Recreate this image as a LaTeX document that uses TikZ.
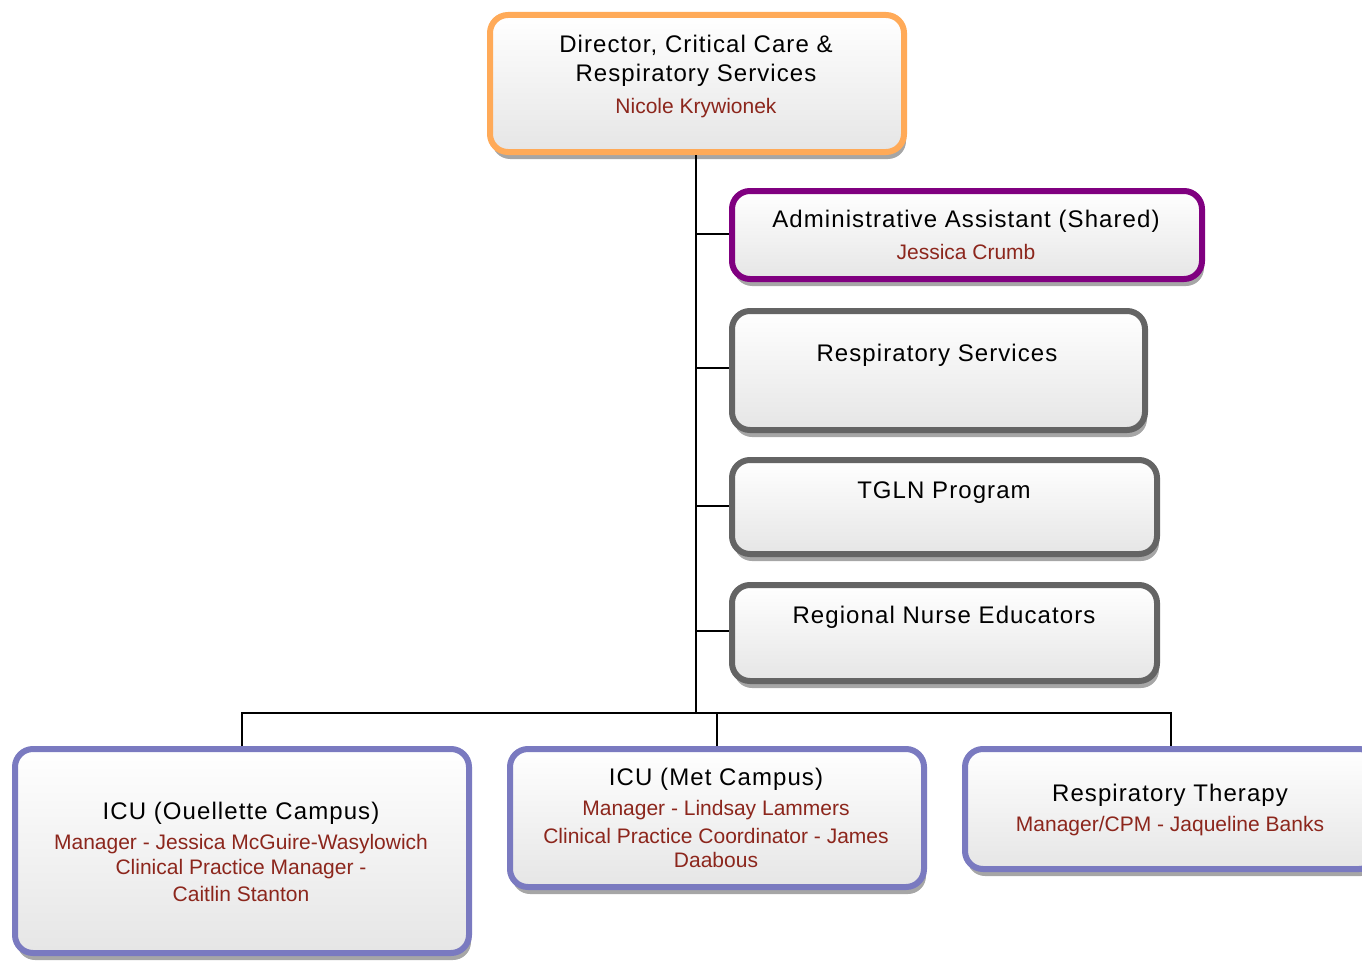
\documentclass[tikz,border=0pt]{standalone}
\usepackage{fontspec}
\setmainfont{Liberation Sans}
\newfontfamily\wideff[LetterSpace=4.5]{Liberation Sans}
\usetikzlibrary{shadows}
\definecolor{redtxt}{RGB}{140,38,28}
\definecolor{borange}{RGB}{255,170,88}
\definecolor{bpurple}{RGB}{128,0,128}
\definecolor{bgray}{RGB}{100,100,100}
\definecolor{bblue}{RGB}{122,122,192}
\tikzset{
  box/.style={draw, rounded corners=18pt, line width=6pt, inner sep=0pt,
    top color=white, bottom color=black!10,
    drop shadow={shadow xshift=2pt, shadow yshift=-7pt, fill=black!35, opacity=1}},
  ttl/.style={font=\wideff\fontsize{24}{28}\selectfont, text=black, inner sep=0pt, align=center},
  sub/.style={font=\fontsize{21}{25}\selectfont, text=redtxt, inner sep=0pt, align=center},
  conn/.style={line width=1.8pt, black}
}
\begin{document}
\begin{tikzpicture}[x=1pt,y=-1pt]
\useasboundingbox (0,0) rectangle (1362,963);
% boxes
\node[box, draw=borange, minimum width=414pt, minimum height=137pt] (dir) at (697,83.5) {};
\node[box, draw=bpurple, minimum width=470pt, minimum height=88pt] (adm) at (967,235) {};
\node[box, draw=bgray, minimum width=413pt, minimum height=119pt] (rs) at (938.5,370.5) {};
\node[box, draw=bgray, minimum width=425pt, minimum height=94pt] (tgln) at (944.5,507) {};
\node[box, draw=bgray, minimum width=425pt, minimum height=96pt] (rne) at (944.5,633) {};
\node[box, draw=bblue, minimum width=454pt, minimum height=204pt] (icuo) at (242,851) {};
\node[box, draw=bblue, minimum width=414pt, minimum height=138pt] (icum) at (717,818) {};
\node[box, draw=bblue, minimum width=412pt, minimum height=120pt] (rt) at (1171,809) {};
% texts
\node[ttl] (dirt1) at (696,45) {Director, Critical Care \&};
\node[ttl] (dirt2) at (696,75) {Respiratory Services};
\node[sub] (dirs) at (696,108) {Nicole Krywionek};
\node[ttl] (admt) at (966,221) {Administrative Assistant (Shared)};
\node[sub] (adms) at (966,252) {Jessica Crumb};
\node[ttl] (rst) at (937,355) {Respiratory Services};
\node[ttl] (tglnt) at (944,493) {TGLN Program};
\node[ttl] (rnet) at (944,617) {Regional Nurse Educators};
\node[ttl] (icuot) at (241,813) {ICU (Ouellette Campus)};
\node[sub] (icuos1) at (241,844) {Manager - Jessica McGuire-Wasylowich};
\node[sub] (icuos2) at (241,869) {Clinical Practice Manager -};
\node[sub] (icuos3) at (241,894) {Caitlin Stanton};
\node[ttl] (icumt) at (716,779) {ICU (Met Campus)};
\node[sub] (icums1) at (716,810) {Manager - Lindsay Lammers};
\node[sub] (icums2) at (716,836) {Clinical Practice Coordinator - James};
\node[sub] (icums3) at (716,860) {Daabous};
\node[ttl] (rtt) at (1170,795) {Respiratory Therapy};
\node[sub] (rts) at (1170,826) {Manager/CPM - Jaqueline Banks};
% connectors
\coordinate (j1) at (696,234);
\coordinate (j2) at (696,368);
\coordinate (j3) at (696,506);
\coordinate (j4) at (696,631);
\coordinate (bus) at (696,713);
\draw[conn] (dir.south -| bus) -- (bus);
\draw[conn] (j1) -- (j1 -| adm.west);
\draw[conn] (j2) -- (j2 -| rs.west);
\draw[conn] (j3) -- (j3 -| tgln.west);
\draw[conn] (j4) -- (j4 -| rne.west);
\draw[conn] (icuo.north) -- (icuo.north |- bus) -| (rt.north);
\draw[conn] (icum.north) -- (icum.north |- bus);
\end{tikzpicture}
\end{document}
